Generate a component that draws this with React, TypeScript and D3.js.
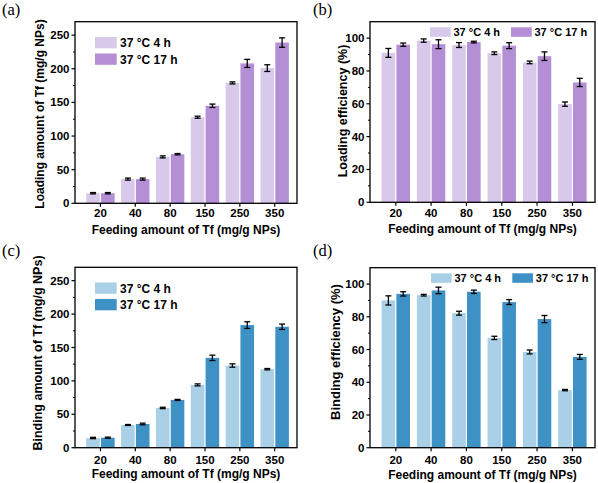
import React from "react";
import * as d3 from "d3";

const categories = ["20", "40", "80", "150", "250", "350"];
const seriesNames = ["37 °C 4 h", "37 °C 17 h"];

const loadAmt4h = [15, 36, 69, 128, 179, 201];
const loadAmt4hErr = [1, 1.5, 1.5, 1.5, 1.5, 5];
const loadAmt17h = [15, 36, 73, 145, 208, 239];
const loadAmt17hErr = [1, 1.5, 1, 2.5, 6, 7];

const loadEff4h = [91, 98.5, 95.8, 90.8, 85.2, 59.8];
const loadEff4hErr = [2.7, 1, 1.5, 0.8, 0.8, 1.3];
const loadEff17h = [96, 96.3, 97.6, 95.4, 89, 73];
const loadEff17hErr = [1, 2.7, 0.5, 1.8, 2.6, 2.5];

const bindAmt4h = [14.5, 34, 59.5, 94, 123, 117.5];
const bindAmt4hErr = [1, 0.7, 1, 1.5, 2.5, 1];
const bindAmt17h = [15, 35.5, 71.5, 134.5, 183.5, 181];
const bindAmt17hErr = [0.8, 1.2, 0.8, 4, 5, 4];

const bindEff4h = [90, 93.2, 82.2, 67.1, 58.5, 35.2];
const bindEff4hErr = [2.8, 0.5, 1.2, 1, 1.2, 0.4];
const bindEff17h = [94, 96.1, 95.3, 89, 78.6, 55.5];
const bindEff17hErr = [1.3, 2, 1, 1.5, 2.2, 1.5];

const amountTicks = [0, 50, 100, 150, 200, 250];
const effTicks = [0, 20, 40, 60, 80, 100];

const purple = ["#d8c8ea", "#b48fd6"];
const blue = ["#a9d0e6", "#3d91c5"];

const SANS = "'Liberation Sans', Arial, sans-serif";
const SERIF = "'Liberation Serif', 'Times New Roman', serif";

type PanelProps = {
  label: string;
  labelX: number;
  labelY: number;
  left: number;
  right: number;
  top: number;
  bottom: number;
  yMax: number;
  ticks: number[];
  minorStep: number;
  s1: number[];
  e1: number[];
  s2: number[];
  e2: number[];
  colors: string[];
  yTitle: string;
  yTitleX: number;
  yTitleCY: number;
  yTitleSize: number;
  tickBase: number;
  titleBase: number;
  legend: "vertical" | "horizontal";
  legX: number;
  legY: number;
  legX2?: number;
  legSize: number;
};

function Panel(p: PanelProps) {
  const x = d3.scaleLinear().domain([-0.73, 5.64]).range([p.left, p.right]);
  const y = d3.scaleLinear().domain([0, p.yMax]).range([p.bottom, p.top]);
  const bw = 13.6;
  const gap = 0.6;
  const minor = d3.range(p.minorStep, p.yMax, p.minorStep * 2);
  const cx = (p.left + p.right) / 2;

  const bars = (vals: number[], errs: number[], k: number) =>
    vals.map((v, i) => {
      const c = x(i);
      const x0 = k === 0 ? c - gap - bw : c + gap;
      const mid = x0 + bw / 2;
      const y0 = y(v);
      const yl = y(v - errs[i]);
      const yh = y(v + errs[i]);
      return (
        <g key={`b${k}-${i}`}>
          <rect x={x0} y={y0} width={bw} height={p.bottom - y0} fill={p.colors[k]} />
          <line x1={mid} x2={mid} y1={yl} y2={yh} stroke="#000" strokeWidth={1.3} />
          <line x1={mid - 3} x2={mid + 3} y1={yl} y2={yl} stroke="#000" strokeWidth={1.3} />
          <line x1={mid - 3} x2={mid + 3} y1={yh} y2={yh} stroke="#000" strokeWidth={1.3} />
        </g>
      );
    });

  const legendItems =
    p.legend === "vertical"
      ? seriesNames.map((n, k) => (
          <g key={n}>
            <rect x={p.legX} y={p.legY + k * 16.5} width={21.7} height={11.3} fill={p.colors[k]} />
            <text x={p.legX + 25} y={p.legY + k * 16.5 + 10} fontSize={p.legSize} fontWeight="bold" fontFamily={SANS}>
              {n}
            </text>
          </g>
        ))
      : seriesNames.map((n, k) => {
          const lx = k === 0 ? p.legX : (p.legX2 as number);
          return (
            <g key={n}>
              <rect x={lx} y={p.legY} width={20.7} height={9.5} fill={p.colors[k]} />
              <text x={lx + 23.5} y={p.legY + 9} fontSize={p.legSize} fontWeight="bold" fontFamily={SANS}>
                {n}
              </text>
            </g>
          );
        });

  return (
    <g>
      <text x={p.labelX} y={p.labelY} fontSize={16.5} fontFamily={SERIF}>
        {p.label}
      </text>
      {bars(p.s1, p.e1, 0)}
      {bars(p.s2, p.e2, 1)}
      <rect
        x={p.left}
        y={p.top}
        width={p.right - p.left}
        height={p.bottom - p.top}
        fill="none"
        stroke="#000"
        strokeWidth={1.3}
      />
      {p.ticks.map((t) => (
        <g key={`t${t}`}>
          <line x1={p.left - 3.5} x2={p.left} y1={y(t)} y2={y(t)} stroke="#000" strokeWidth={1.2} />
          <text
            x={p.left - 5.5}
            y={y(t)}
            dy="0.35em"
            textAnchor="end"
            fontSize={11.5}
            fontWeight="bold"
            fontFamily={SANS}
          >
            {t}
          </text>
        </g>
      ))}
      {minor.map((t) => (
        <line key={`m${t}`} x1={p.left - 2} x2={p.left} y1={y(t)} y2={y(t)} stroke="#000" strokeWidth={1} />
      ))}
      {categories.map((c, i) => (
        <g key={c}>
          <line x1={x(i)} x2={x(i)} y1={p.bottom} y2={p.bottom + 3.5} stroke="#000" strokeWidth={1.2} />
          <text
            x={x(i)}
            y={p.bottom + p.tickBase}
            textAnchor="middle"
            fontSize={11.5}
            fontWeight="bold"
            fontFamily={SANS}
          >
            {c}
          </text>
        </g>
      ))}
      <text
        x={cx}
        y={p.bottom + p.titleBase}
        textAnchor="middle"
        fontSize={12}
        fontWeight="bold"
        fontFamily={SANS}
      >
        Feeding amount of Tf (mg/g NPs)
      </text>
      <text
        transform={`translate(${p.yTitleX},${p.yTitleCY}) rotate(-90)`}
        textAnchor="middle"
        dy="0.35em"
        fontSize={p.yTitleSize}
        fontWeight="bold"
        fontFamily={SANS}
      >
        {p.yTitle}
      </text>
      {legendItems}
    </g>
  );
}

export default function App() {
  return (
    <svg
      width={598}
      height={483}
      viewBox="0 0 598 483"
      style={{ position: "absolute", left: 0, top: 0, background: "#fff" }}
    >
      <rect x={0} y={0} width={598} height={483} fill="#fff" />
      <Panel
        label="(a)"
        labelX={2}
        labelY={15}
        left={75}
        right={297}
        top={21.7}
        bottom={203.3}
        yMax={270}
        ticks={amountTicks}
        minorStep={25}
        s1={loadAmt4h}
        e1={loadAmt4hErr}
        s2={loadAmt17h}
        e2={loadAmt17hErr}
        colors={purple}
        yTitle="Loading amount of Tf (mg/g NPs)"
        yTitleX={40}
        yTitleCY={114}
        yTitleSize={12}
        tickBase={13.8}
        titleBase={30.5}
        legend="vertical"
        legX={95}
        legY={37}
        legSize={12}
      />
      <Panel
        label="(b)"
        labelX={313}
        labelY={15}
        left={370}
        right={595}
        top={21.7}
        bottom={202.3}
        yMax={110}
        ticks={effTicks}
        minorStep={10}
        s1={loadEff4h}
        e1={loadEff4hErr}
        s2={loadEff17h}
        e2={loadEff17hErr}
        colors={purple}
        yTitle="Loading efficiency (%)"
        yTitleX={343}
        yTitleCY={111}
        yTitleSize={12.5}
        tickBase={15}
        titleBase={31}
        legend="horizontal"
        legX={430}
        legY={27.3}
        legX2={511}
        legSize={11}
      />
      <Panel
        label="(c)"
        labelX={2}
        labelY={256}
        left={75}
        right={297}
        top={267.3}
        bottom={447.7}
        yMax={270}
        ticks={amountTicks}
        minorStep={25}
        s1={bindAmt4h}
        e1={bindAmt4hErr}
        s2={bindAmt17h}
        e2={bindAmt17hErr}
        colors={blue}
        yTitle="Binding amount of Tf (mg/g NPs)"
        yTitleX={38}
        yTitleCY={353}
        yTitleSize={12.5}
        tickBase={16.5}
        titleBase={30}
        legend="vertical"
        legX={95}
        legY={282.5}
        legSize={12}
      />
      <Panel
        label="(d)"
        labelX={313}
        labelY={256}
        left={370}
        right={595}
        top={267.7}
        bottom={447.7}
        yMax={110}
        ticks={effTicks}
        minorStep={10}
        s1={bindEff4h}
        e1={bindEff4hErr}
        s2={bindEff17h}
        e2={bindEff17hErr}
        colors={blue}
        yTitle="Binding efficiency (%)"
        yTitleX={335}
        yTitleCY={352}
        yTitleSize={13}
        tickBase={16}
        titleBase={31.5}
        legend="horizontal"
        legX={431}
        legY={273.3}
        legX2={512.3}
        legSize={11}
      />
    </svg>
  );
}
